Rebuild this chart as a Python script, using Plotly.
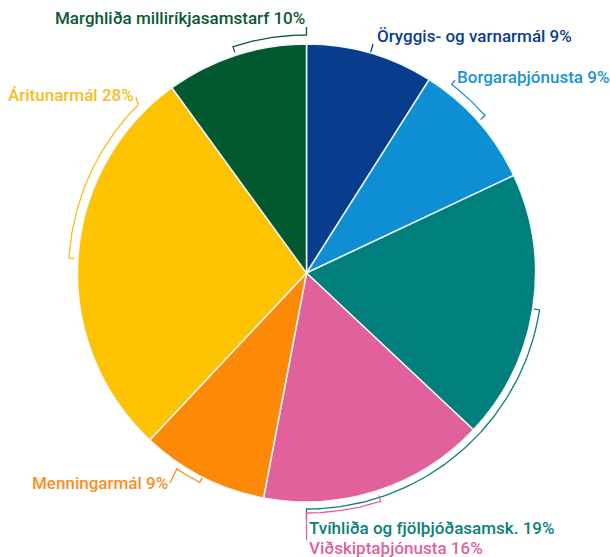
import numpy as np
import plotly.graph_objects as go

# Share of staff time by policy area (%), clockwise from 12 o'clock
categories = [
    "Öryggis- og varnarmál",
    "Borgaraþjónusta",
    "Tvíhliða og fjölþjóðasamsk.",
    "Viðskiptaþjónusta",
    "Menningarmál",
    "Áritunarmál",
    "Marghliða milliríkjasamstarf",
]
shares = [9, 9, 19, 16, 9, 28, 10]
colors = ["#073d8c", "#0f8fd3", "#007f7c", "#e0619b", "#fd8a06", "#fec300", "#02582f"]
text_colors = ["#0b3f8e", "#1a92d4", "#0a7f7b", "#e0619b", "#f7901e", "#f6be1e", "#0b5a33"]

# Canvas / pie geometry (pixels)
W, H = 610, 557
CX, CY, R = 306.5, 273.0, 229.0

# Callout layout per slice: bracket angle end, bracket radius,
# label anchor (x, y), label alignment
callouts = [
    dict(end=None, rb=None, lx=375, ly=44, anchor="left"),
    dict(end=37.6, rb=238, lx=455, ly=80, anchor="left"),
    dict(end=180.0, rb=236, lx=306.5, ly=519, anchor="left"),
    dict(end=180.0, rb=240, lx=306.5, ly=540, anchor="left"),
    dict(end=213.5, rb=235, lx=170, ly=483, anchor="right"),
    dict(end=315.0, rb=238, lx=136, ly=97, anchor="right"),
    dict(end=360.0, rb=238, lx=306.5, ly=27, anchor="right"),
]
label_y = [36, 77, 528, 548, 483, 95, 18]


def pt(theta_deg, r):
    t = np.radians(theta_deg)
    return CX + r * np.sin(t), CY - r * np.cos(t)


total = sum(shares)
bounds = np.concatenate([[0.0], np.cumsum(shares)]) / total * 360.0

fig = go.Figure()

# bracket + leader lines in pixel coordinates
for i, c in enumerate(callouts):
    mid = (bounds[i] + bounds[i + 1]) / 2
    xs, ys = [], []
    if c["end"] is None:
        x0, y0 = pt(mid, R)
        xs += [x0, c["lx"] - 2]
        ys += [y0, c["ly"]]
    else:
        rb = c["rb"]
        tx0, ty0 = pt(mid, rb - 6)
        xs.append(tx0)
        ys.append(ty0)
        for th in np.linspace(mid, c["end"], 60):
            x, y = pt(th, rb)
            xs.append(x)
            ys.append(y)
        xs.append(c["lx"])
        ys.append(c["ly"])
    fig.add_trace(go.Scatter(
        x=xs, y=ys, mode="lines",
        line=dict(color=text_colors[i], width=1.3),
        hoverinfo="skip", showlegend=False,
    ))

fig.add_trace(go.Pie(
    labels=categories,
    values=shares,
    sort=False,
    direction="clockwise",
    rotation=0,
    marker=dict(colors=colors, line=dict(color="#eef6f6", width=1.5)),
    textinfo="none",
    hoverinfo="label+percent",
    showlegend=False,
    domain=dict(
        x=[(CX - R) / W, (CX + R) / W],
        y=[(H - CY - R) / H, (H - CY + R) / H],
    ),
))

for i, name in enumerate(categories):
    c = callouts[i]
    fig.add_annotation(
        x=c["lx"], y=label_y[i], xref="x", yref="y",
        text=f"{name} {shares[i]}%",
        showarrow=False,
        xanchor=c["anchor"], yanchor="middle",
        font=dict(family="Roboto", size=17, color=text_colors[i], weight=500),
    )

fig.update_layout(
    width=W, height=H,
    margin=dict(l=0, r=0, t=0, b=0),
    paper_bgcolor="white",
    plot_bgcolor="white",
    xaxis=dict(range=[0, W], visible=False, fixedrange=True),
    yaxis=dict(range=[H, 0], visible=False, fixedrange=True),
)

fig.write_html("out.html")
